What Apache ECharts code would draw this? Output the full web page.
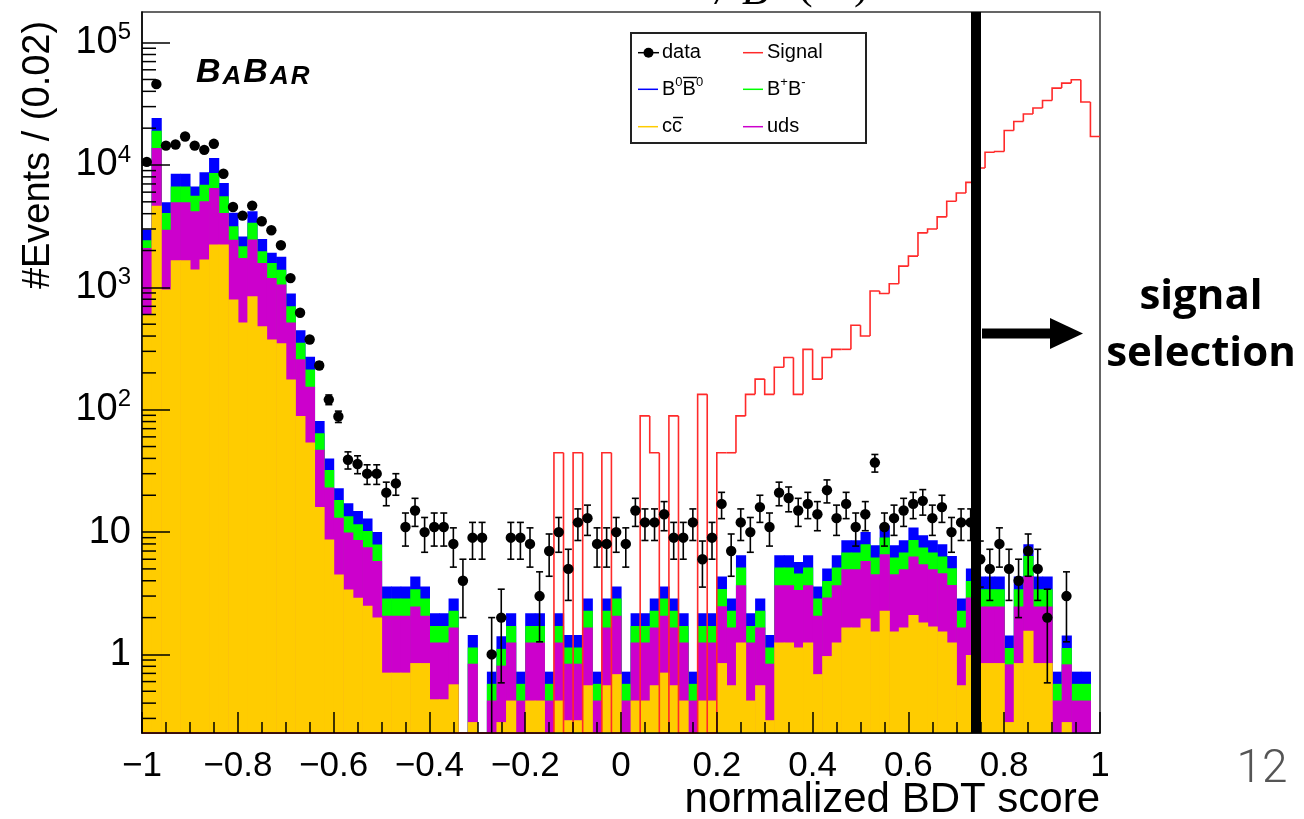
<!DOCTYPE html>
<html><head><meta charset="utf-8">
<script src="https://cdn.jsdelivr.net/npm/echarts@6/dist/echarts.min.js"></script>
<style>html,body{margin:0;padding:0;background:#fff}#c{width:1304px;height:819px}</style>
</head><body><div id="c"></div>
<script>
// histogram binning: 100 bins of width 0.02 from -1 to 1
const nBins = 100, xStart = -1, binW = 0.02;

const cc = [600,4650,960,1665,1665,1400,1690,2235,2235,795,
 515,846,480,375,350,177,89,54,16,8.7,
 4.5,3.4,2.9,2.5,2.0,0.71,0.71,0.71,0.85,0.85,
 0.43,0.43,0.57,0,0.28,0,0,0.28,0.42,0,
 0.42,0.42,0,0.42,0.29,0.29,0.56,0,0.56,0.69,
 0,0.42,0.42,0.56,0.71,0.56,0.42,0,0.42,0.42,
 0.85,0.56,1.25,0.42,0.56,0.29,1.25,1.25,1.14,1.25,
 0.69,0.97,1.25,1.66,1.66,1.97,1.54,2.27,1.54,1.66,
 2.1,1.82,1.69,1.54,1.25,0.56,0.99,0.85,0.85,0.85,
 0.28,0.85,1.56,0.85,0.85,0,0.28,0,0,0];

const uds = [1500,9100,2000,3290,3290,2780,3355,4255,1820,1660,
 1225,1610,1105,820,705,338,169,100,31,14.4,
 8.6,6.5,5.7,5.0,3.8,1.36,1.36,1.36,1.62,1.22,
 0.82,0.82,1.09,0,0.56,0,0.42,0.53,0.83,0.42,
 0.83,0.83,0.42,0.83,0.55,0.55,1.1,0.42,1.1,1.38,
 0.42,0.83,0.83,1.1,1.36,1.1,0.83,0.42,0.83,0.83,
 1.63,1.1,2.43,0.83,1.1,0.55,2.43,2.43,2.23,2.43,
 1.38,1.95,2.43,3.31,3.31,3.84,2.98,4.32,2.98,3.31,
 4.21,3.64,3.28,3.07,2.45,1.1,1.93,1.62,1.62,1.62,
 0.55,1.62,2.82,1.62,1.62,0.42,0.55,0.42,0.42,0];

const bpbm = [325,5300,1090,1730,1730,1435,1860,2120,1490,700,
 425,910,390,390,340,186,94,59,17.3,9,
 5.2,3.6,3.0,2.7,2.1,0.8,0.8,0.8,0.94,0.8,
 0.46,0.46,0.61,0,0.3,0,0.155,0.3,0.46,0.155,
 0.46,0.46,0.155,0.46,0.3,0.3,0.61,0.155,0.61,0.8,
 0.155,0.46,0.46,0.61,0.8,0.61,0.46,0.155,0.46,0.46,
 0.94,0.61,1.45,0.46,0.61,0.3,1.45,1.45,1.21,1.45,
 0.8,1.07,1.45,1.83,1.83,2.14,1.67,2.43,1.67,1.83,
 2.32,2.01,1.83,1.7,1.36,0.61,1.07,0.94,0.94,0.94,
 0.3,0.94,2.0,0.94,0.94,0.155,0.3,0.155,0.155,0];

const b0b0 = [540,5150,900,1805,1805,1070,1805,2790,1580,925,
 445,815,515,330,380,189,95,58,16.6,7.9,
 4.5,3.7,3.3,2.7,2.1,0.72,0.72,0.72,0.92,0.72,
 0.46,0.46,0.6,0,0.3,0,0.148,0.3,0.46,0.148,
 0.46,0.46,0.148,0.46,0.3,0.3,0.6,0.148,0.6,0.72,
 0.148,0.46,0.46,0.6,0.72,0.6,0.46,0.148,0.46,0.46,
 0.92,0.6,1.34,0.46,0.6,0.3,1.34,1.34,1.12,1.34,
 0.72,1.05,1.34,1.77,1.77,2.05,1.61,2.28,1.61,1.77,
 2.27,1.95,1.77,1.64,1.33,0.6,1.05,0.92,0.92,0.92,
 0.3,0.92,1.56,0.92,0.92,0.148,0.3,0.148,0.148,0];

const dataCounts = [10600,45800,14400,14700,17100,14400,13300,14900,8490,4540,
 3860,4660,3470,2930,2210,1190,620,375,230,121,
 88,39,36,30,30,21,25,11,15,10,
 11,11,8,4,9,9,1,2,9,9,
 8,3,7,10,5,12,13,8,8,10,
 8,15,12,12,14,9,9,12,6,9,
 17,7,12,10,16,11,21,19,15,17,
 14,22,13,17,11,14,37,11,13,15,
 17,18,13,16,10,12,12,6,5,8,
 5,4,7,5,2,0,3,0,0,0];

const signal = [0,0,0,0,0,0,0,0,0,0,
 0,0,0,0,0,0,0,0,0,0,
 0,0,0,0,0,0,0,0,0,0,
 0,0,0,0,0,0,0,0,0,0,
 0,0,0,44.5,0,44.5,0,0,44.5,0,
 0,0,89,44.5,0,89,0,0,133.5,0,
 44.5,44.5,89,133.5,178,133.5,222.5,267,133.5,311.5,
 178,267,311.5,311.5,489.5,400.5,935,890,1070,1490,
 1800,2790,3000,3770,5050,5910,7210,9450,12700,12900,
 19150,22700,26100,29200,33700,42500,46700,49700,32700,17100];

const selectionCut = 0.745;
const yMinorTickValues = [0.3,0.4,0.5,0.6,0.7,0.8,0.9,
 2,3,4,5,6,7,8,9, 20,30,40,50,60,70,80,90,
 200,300,400,500,600,700,800,900,
 2000,3000,4000,5000,6000,7000,8000,9000,
 20000,30000,40000,50000,60000,70000,80000,90000];

const yMin = 0.228, yMax = 178000;
const FONT = 'Liberation Sans';

// stack tops (THStack style)
const yellowTop = cc.slice();
const magTop = cc.map((v,i)=>v+uds[i]);
const greenTop = magTop.map((v,i)=>v+bpbm[i]);
const blueTop = greenTop.map((v,i)=>v+b0b0[i]);

function clampY(v){ return Math.max(yMin, Math.min(yMax, v)); }

function layer(name, color, tops){
  return {
    type:'custom', name, silent:true,
    data: tops.map((t,i)=>[xStart+i*binW, xStart+(i+1)*binW, t]),
    encode:{x:[0,1], y:2},
    renderItem(params, api){
      const t = api.value(2);
      if (!(t > 0)) return null;
      const p0 = api.coord([api.value(0), clampY(t)]);
      const p1 = api.coord([api.value(1), yMin]);
      return {type:'rect', shape:{x:p0[0], y:p0[1], width:p1[0]-p0[0]+0.6, height:p1[1]-p0[1]},
        style:{fill:color}};
    }
  };
}

const signalSeries = {
  type:'custom', name:'Signal', silent:true,
  data: signal.map((v,i)=>[xStart+i*binW, xStart+(i+1)*binW, v, i>0 ? signal[i-1] : 0]),
  encode:{x:[0,1], y:2},
  renderItem(params, api){
    const x0 = api.value(0), x1 = api.value(1), v = api.value(2), pv = api.value(3);
    const a = api.coord([x0, clampY(pv)]);
    const b = api.coord([x0, clampY(v)]);
    const c = api.coord([x1, clampY(v)]);
    return {type:'polyline', shape:{points:[a,b,c]}, style:{stroke:'#ff2a2a', lineWidth:1.6, fill:null}};
  }
};

const dataSeries = {
  type:'custom', name:'data', silent:true,
  data: dataCounts.map((v,i)=>[xStart+(i+0.5)*binW, v]),
  encode:{x:0, y:1},
  renderItem(params, api){
    const x = api.value(0), v = api.value(1);
    if (!(v > 0)) return null;
    const e = Math.sqrt(v);
    const c = api.coord([x, v]);
    const hi = api.coord([x, clampY(v+e)]);
    const loV = v - e;
    const lo = api.coord([x, clampY(loV > 0 ? loV : yMin)]);
    const ch = [
      {type:'line', shape:{x1:c[0], y1:hi[1], x2:c[0], y2:lo[1]}, style:{stroke:'#000', lineWidth:1.6}},
      {type:'line', shape:{x1:c[0]-3.5, y1:hi[1], x2:c[0]+3.5, y2:hi[1]}, style:{stroke:'#000', lineWidth:1.6}}
    ];
    if (loV > yMin) ch.push({type:'line', shape:{x1:c[0]-3.5, y1:lo[1], x2:c[0]+3.5, y2:lo[1]}, style:{stroke:'#000', lineWidth:1.6}});
    ch.push({type:'circle', shape:{cx:c[0], cy:c[1], r:5.2}, style:{fill:'#000'}});
    return {type:'group', children:ch};
  },
  markLine:{
    silent:true, symbol:['none','none'], animation:false,
    label:{show:false},
    lineStyle:{color:'#000', width:10, type:'solid'},
    data:[{xAxis:selectionCut}]
  }
};

const minorTickSeries = {
  type:'custom', silent:true, z:20,
  data: yMinorTickValues.map(v=>[xStart, v]),
  encode:{x:0, y:1},
  renderItem(params, api){
    const p = api.coord([api.value(0), api.value(1)]);
    return {type:'line', shape:{x1:p[0], y1:p[1], x2:p[0]+14, y2:p[1]}, style:{stroke:'#000', lineWidth:1.5}};
  }
};

const txt = (x, y, text, extra) => ({type:'text', z:100, style:Object.assign({x, y, text, fontFamily:FONT, fontSize:20, fill:'#000', verticalAlign:'middle'}, extra||{})});
const seg = (x1, y1, x2, y2, color, w) => ({type:'line', z:100, shape:{x1,y1,x2,y2}, style:{stroke:color, lineWidth:w||1.5}});

const supRich = {
  n:{fontFamily:FONT, fontSize:20, fill:'#000', lineHeight:26, verticalAlign:'middle'},
  s:{fontFamily:FONT, fontSize:13, fill:'#000', lineHeight:14, verticalAlign:'top'}
};

const serifTop = {fontFamily:'Liberation Serif', fontStyle:'italic', fontSize:44, fill:'#000'};

const graphic = [
  // cropped slide title fragments at the very top
  txt(716, -8, '/', serifTop),
  txt(742, -8, 'B', serifTop),
  txt(798, -14, '(', Object.assign({}, serifTop, {fontStyle:'normal'})),
  txt(854, -14, ')', Object.assign({}, serifTop, {fontStyle:'normal'})),
  // legend
  {type:'rect', z:99, shape:{x:631, y:33, width:235, height:110}, style:{fill:'#fff', stroke:'#222', lineWidth:2}},
  seg(638, 52.7, 659, 52.7, '#000', 1.5),
  {type:'circle', z:100, shape:{cx:648.5, cy:52.7, r:5}, style:{fill:'#000'}},
  txt(662, 52.7, 'data'),
  seg(743, 52.7, 763, 52.7, '#ff2a2a', 1.5),
  txt(767, 52.7, 'Signal'),
  seg(638, 89.3, 658, 89.3, '#0000ff', 1.5),
  txt(662, 89.3, '{n|B}{s|0}{n|B}{s|0}', {rich:supRich}),
  seg(683, 77.5, 697, 77.5, '#000', 1.4),
  seg(743, 89.3, 763, 89.3, '#00ff00', 1.5),
  txt(767, 89.3, '{n|B}{s|+}{n|B}{s|-}', {rich:supRich}),
  seg(638, 126.7, 658, 126.7, '#ffcc00', 1.5),
  txt(662, 126.7, 'cc'),
  seg(673, 117.5, 683, 117.5, '#000', 1.4),
  seg(743, 126.7, 763, 126.7, '#cc00cc', 1.5),
  txt(767, 126.7, 'uds'),
  // BABAR
  {type:'text', z:100, style:{x:196, y:73, verticalAlign:'middle',
    text:'{L|B}{S|A}{L|B}{S|A}{S|R}',
    rich:{
      L:{fontFamily:FONT, fontSize:34, fontWeight:'bold', fontStyle:'italic', fill:'#000', lineHeight:34, verticalAlign:'bottom', padding:[0,2,0,0]},
      S:{fontFamily:FONT, fontSize:26, fontWeight:'bold', fontStyle:'italic', fill:'#000', lineHeight:26, verticalAlign:'bottom', padding:[0,2,0,0]}
    }}},
  // axis titles
  {type:'text', z:100, x:39, y:155, rotation:Math.PI/2,
    style:{x:0, y:0, text:'#Events / (0.02)', fontFamily:FONT, fontSize:38, fill:'#000', align:'center', verticalAlign:'middle'}},
  txt(1100, 800, 'normalized BDT score', {fontSize:42, align:'right'}),
  // annotation
  {type:'rect', z:100, shape:{x:982, y:328.5, width:70, height:10}, style:{fill:'#000'}},
  {type:'polygon', z:100, shape:{points:[[1050,318],[1083,333.5],[1050,349]]}, style:{fill:'#000'}},
  txt(1201, 297, 'signal', {fontFamily:'Open Sans', fontWeight:'bold', fontSize:42, align:'center'}),
  txt(1201, 354, 'selection', {fontFamily:'Open Sans', fontWeight:'bold', fontSize:42, align:'center'}),
  txt(1262, 770, '12', {fontFamily:'Roboto', fontWeight:300, fontSize:46, fill:'#555', align:'center'})
];

const option = {
  animation:false,
  grid:{left:142, top:12, width:958, height:721, show:true, borderColor:'#333', borderWidth:1.5, backgroundColor:'#fff'},
  xAxis:{
    type:'value', min:-1, max:1, interval:0.2, z:10,
    axisLine:{onZero:false, lineStyle:{color:'#000', width:1.5}},
    axisTick:{inside:true, length:21, lineStyle:{color:'#000', width:1.5}},
    minorTick:{show:true, splitNumber:4, length:11, lineStyle:{color:'#000', width:1.5}},
    splitLine:{show:false},
    axisLabel:{margin:16, fontFamily:FONT, fontSize:35, color:'#000',
      formatter:v=>{ const r = Math.round(v*10)/10; if (r===0) return '0'; return (r<0?'\u2212':'') + String(Math.abs(r)); }}
  },
  yAxis:{
    type:'log', logBase:10, min:yMin, max:yMax, z:10,
    axisLine:{onZero:false, lineStyle:{color:'#000', width:1.5}},
    axisTick:{inside:true, length:28, lineStyle:{color:'#000', width:1.5}},
    splitLine:{show:false},
    axisLabel:{showMinLabel:false, showMaxLabel:false, margin:11,
      formatter:v=>{ const k = Math.round(Math.log10(v)); if (k===0) return '{b|1}'; if (k===1) return '{b|10}'; return '{b|10}{s|'+k+'}'; },
      rich:{
        b:{fontFamily:FONT, fontSize:38, color:'#000', lineHeight:44},
        s:{fontFamily:FONT, fontSize:24, color:'#000', lineHeight:28, verticalAlign:'top'}
      }}
  },
  series:[
    layer('B0B0', '#0000ff', blueTop),
    layer('B+B-', '#00ff00', greenTop),
    layer('uds', '#cc00cc', magTop),
    layer('cc', '#ffcc00', yellowTop),
    signalSeries,
    dataSeries,
    minorTickSeries
  ],
  graphic
};

const chart = echarts.init(document.getElementById('c'));
chart.setOption(option);
</script>
</body></html>
